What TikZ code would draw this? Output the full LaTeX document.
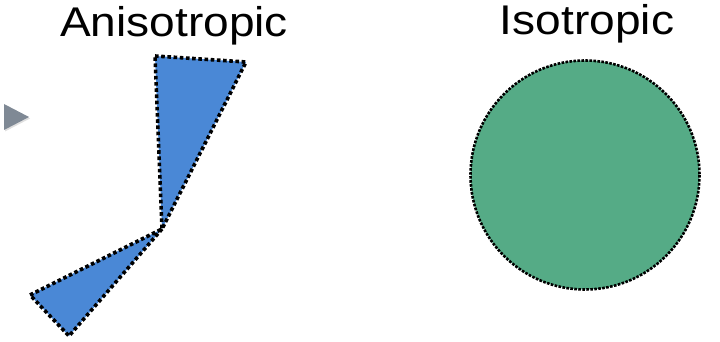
\documentclass[tikz,border=0pt]{standalone}
\usepackage{fontspec}
\newfontfamily\labfont[FakeStretch=1.11]{Liberation Sans}
\usetikzlibrary{shadows}
\definecolor{triblue}{HTML}{4A88D6}
\definecolor{circgreen}{HTML}{55AB86}
\definecolor{markgray}{HTML}{7F8995}
\tikzset{
  lab/.style={anchor=base, inner sep=0pt, font=\labfont\fontsize{41.5}{48}\selectfont},
  tri/.style={fill=triblue, draw=black, line width=3.6pt, dash pattern=on 3.6pt off 2.6pt, line join=miter},
  circ/.style={fill=circgreen, draw=black, line width=2.6pt, dash pattern=on 2.6pt off 1.4pt}
}
\begin{document}
\begin{tikzpicture}[x=1pt,y=-1pt]
\useasboundingbox (0,0) rectangle (720,342);
\node[lab] (aniso) at (174,37) {Anisotropic};
\node[lab] (iso) at (587,35) {Isotropic};
\fill[markgray, drop shadow={shadow xshift=1pt, shadow yshift=-1.5pt, opacity=0.25}] (4,104) -- (29,117) -- (4,130) -- cycle;
\draw[tri] (155,56) -- (246,62) -- (162,229) -- cycle;
\draw[tri] (162,229) -- (69,336) -- (30,295) -- cycle;
\draw[circ] (585,175) circle[radius=114.5];
\end{tikzpicture}
\end{document}
